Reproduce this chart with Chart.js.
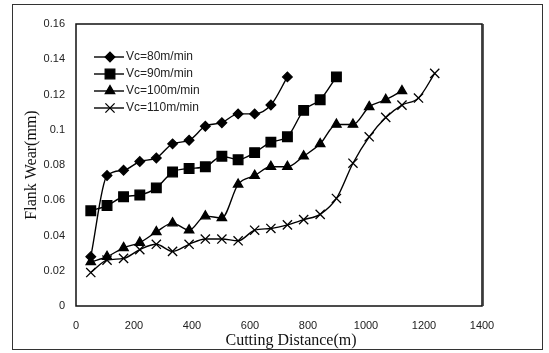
<!DOCTYPE html>
<html>
<head>
<meta charset="utf-8">
<script src="https://cdn.jsdelivr.net/npm/chart.js@4.4.1/dist/chart.umd.min.js"></script>
<style>
  html, body { margin: 0; padding: 0; background: #fff; }
  #wrap { width: 549px; height: 353px; }
</style>
</head>
<body>
<div id="wrap"><canvas id="wearChart" width="549" height="353"></canvas></div>
<script>
// Cutting distance per pass (m), shared by all speeds
const distance = [51, 107, 164, 220, 277, 333, 390, 446, 503, 559, 616, 672, 729, 785, 842, 898, 955, 1011, 1068, 1124, 1181, 1237];

// Flank wear (mm) for each cutting speed
const wear80 = [0.028, 0.074, 0.077, 0.082, 0.084, 0.092, 0.094, 0.102, 0.104, 0.109, 0.109, 0.114, 0.130];
const wear90 = [0.054, 0.057, 0.062, 0.063, 0.067, 0.076, 0.078, 0.079, 0.085, 0.083, 0.087, 0.093, 0.096, 0.111, 0.117, 0.130];
const wear100 = [0.025, 0.028, 0.033, 0.036, 0.042, 0.047, 0.043, 0.051, 0.050, 0.069, 0.074, 0.079, 0.079, 0.085, 0.092, 0.103, 0.103, 0.113, 0.117, 0.122];
const wear110 = [0.019, 0.026, 0.027, 0.032, 0.035, 0.031, 0.035, 0.038, 0.038, 0.037, 0.043, 0.044, 0.046, 0.049, 0.052, 0.061, 0.081, 0.096, 0.107, 0.114, 0.118, 0.132];

const seriesLabels = ['Vc=80m/min', 'Vc=90m/min', 'Vc=100m/min', 'Vc=110m/min'];
const xTicks = [0, 200, 400, 600, 800, 1000, 1200, 1400];
const xTitle = 'Cutting Distance(m)';

function toPoints(values) {
    return values.map((v, i) => ({ x: distance[i], y: v }));
}

function makeSeries(label, values, style, radius) {
    return {
        label: label,
        data: toPoints(values),
        borderColor: '#000',
        backgroundColor: '#000',
        borderWidth: 1.4,
        pointStyle: style,
        pointRadius: radius,
        pointBorderColor: '#000',
        pointBackgroundColor: '#000',
        pointBorderWidth: 1.3,
        cubicInterpolationMode: 'monotone',
        fill: false
    };
}

// Outer frame around the whole figure
const outerFrame = {
    id: 'outerFrame',
    afterDraw(chart) {
        const ctx = chart.ctx;
        ctx.save();
        ctx.strokeStyle = '#333';
        ctx.lineWidth = 1;
        ctx.strokeRect(12.5, 4.5, 530, 345);
        ctx.restore();
    }
};

// Plot box, all four sides
const plotBox = {
    id: 'plotBox',
    afterDatasetsDraw(chart) {
        const a = chart.chartArea;
        const ctx = chart.ctx;
        ctx.save();
        ctx.strokeStyle = '#111';
        ctx.lineWidth = 1.5;
        ctx.strokeRect(a.left, a.top, a.right - a.left, a.bottom - a.top);
        ctx.beginPath();
        ctx.lineWidth = 1;
        ctx.moveTo(a.right + 1.2, a.top);
        ctx.lineTo(a.right + 1.2, a.bottom);
        ctx.stroke();
        ctx.restore();
    }
};

// X axis title, sitting a little right of the plot centre
const xAxisTitle = {
    id: 'xAxisTitle',
    afterDraw(chart) {
        const a = chart.chartArea;
        const ctx = chart.ctx;
        ctx.save();
        ctx.fillStyle = '#111';
        ctx.font = '16px "Liberation Serif", "Times New Roman", serif';
        ctx.textAlign = 'center';
        ctx.textBaseline = 'middle';
        ctx.fillText(xTitle, (a.left + a.right) / 2 + 12, a.bottom + 35);
        ctx.restore();
    }
};

// Legend inside the plot, top left
const innerLegend = {
    id: 'innerLegend',
    afterDatasetsDraw(chart) {
        const a = chart.chartArea;
        const ctx = chart.ctx;
        ctx.save();
        chart.data.datasets.forEach((ds, i) => {
            const y = a.top + 33 + i * 17;
            const x0 = a.left + 18;
            ctx.strokeStyle = '#000';
            ctx.fillStyle = '#000';
            ctx.lineWidth = 1.4;
            ctx.beginPath();
            ctx.moveTo(x0, y);
            ctx.lineTo(x0 + 30, y);
            ctx.stroke();
            ctx.lineWidth = ds.pointBorderWidth;
            Chart.helpers.drawPoint(ctx, {
                pointStyle: ds.pointStyle,
                radius: ds.pointRadius,
                borderWidth: ds.pointBorderWidth,
                rotation: 0
            }, x0 + 16, y);
            ctx.fillStyle = '#222';
            ctx.font = '12px "Liberation Sans", Arial, sans-serif';
            ctx.textAlign = 'left';
            ctx.textBaseline = 'middle';
            ctx.fillText(ds.label, x0 + 32, y);
        });
        ctx.restore();
    }
};

const ctx = document.getElementById('wearChart');
new Chart(ctx, {
    type: 'line',
    data: {
        datasets: [
            makeSeries(seriesLabels[0], wear80, 'rectRot', 4.8),
            makeSeries(seriesLabels[1], wear90, 'rect', 6.8),
            makeSeries(seriesLabels[2], wear100, 'triangle', 5.4),
            makeSeries(seriesLabels[3], wear110, 'crossRot', 6.5)
        ]
    },
    options: {
        responsive: false,
        animation: false,
        layout: {
            padding: { top: 24, right: 67, left: 0, bottom: 0 }
        },
        plugins: {
            legend: { display: false },
            tooltip: { enabled: false }
        },
        scales: {
            x: {
                type: 'linear',
                min: 0,
                max: 1400,
                afterBuildTicks: axis => { axis.ticks = xTicks.map(v => ({ value: v })); },
                afterFit: axis => { axis.height = 47; },
                grid: { display: false, drawTicks: false },
                border: { display: false },
                ticks: {
                    padding: 13,
                    color: '#222',
                    font: { family: '"Liberation Sans", Arial, sans-serif', size: 11 },
                    callback: v => String(v)
                }
            },
            y: {
                min: 0,
                max: 0.16,
                afterFit: axis => { axis.width = 76; },
                grid: { display: false, drawTicks: false },
                border: { display: false },
                ticks: {
                    stepSize: 0.02,
                    padding: 11,
                    color: '#222',
                    font: { family: '"Liberation Sans", Arial, sans-serif', size: 11 },
                    callback: v => String(+v.toFixed(2))
                },
                title: {
                    display: true,
                    text: 'Flank Wear(mm)',
                    color: '#111',
                    font: { family: '"Liberation Serif", "Times New Roman", serif', size: 16 },
                    padding: { top: 22, bottom: 0 }
                }
            }
        }
    },
    plugins: [outerFrame, plotBox, xAxisTitle, innerLegend]
});
</script>
</body>
</html>
